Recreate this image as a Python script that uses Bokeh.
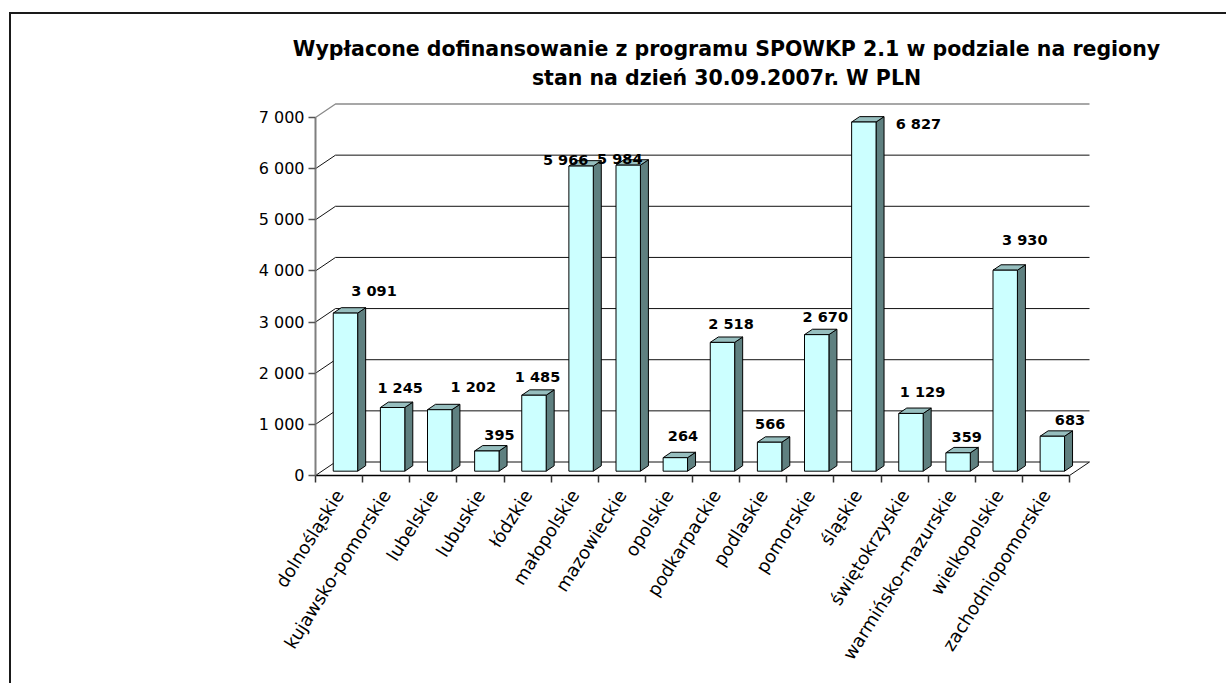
from bokeh.plotting import figure
from bokeh.models import Range1d, FixedTicker, LinearAxis
from bokeh.core.properties import value
from bokeh.embed import file_html
from bokeh.resources import INLINE

# ---------------- data ----------------
regions = ["dolnośląskie", "kujawsko-pomorskie", "lubelskie", "lubuskie", "łódzkie",
           "małopolskie", "mazowieckie", "opolskie", "podkarpackie", "podlaskie",
           "pomorskie", "śląskie", "świętokrzyskie", "warmińsko-mazurskie",
           "wielkopolskie", "zachodniopomorskie"]
amounts = [3091, 1245, 1202, 395, 1485, 5966, 5984, 264, 2518, 566, 2670, 6827,
           1129, 359, 3930, 683]
y_ticks = [0, 1000, 2000, 3000, 4000, 5000, 6000, 7000]
title_lines = ["Wypłacone dofinansowanie z programu SPOWKP 2.1 w podziale na regiony",
               "stan na dzień 30.09.2007r. W PLN"]

# ---------------- style / geometry (pixels) ----------------
# data-label offsets (px) relative to category centre / bar front top
label_dx = [35, 14, 40, 19, 10, -9, -2, 14, 15, 7, 15, 61, 18, 15, 26, 24]
label_dy = [-21.6, -20, -23, -15.5, -18, -6, -6, -22, -18, -18, -18, 2, -21, -16, -30, -16]

W, H = 1226, 683
AXIS_X, BASE_Y, TOP_Y = 315, 475, 117        # page position of the value axis
CAT_W = 47.125
PX_PER_Y = (BASE_Y - TOP_Y) / 7000.0
DX, DY = 20.0, 13.5             # depth of the 3D box
FD, BD = 0.32, 0.72             # bar front / back depth fraction
HW = 12.2                       # half width of bar front face

def xu(px):
    return px / CAT_W

def yu(px):
    return px / PX_PER_Y

n = len(regions)
p = figure(width=W, height=H,
           x_range=Range1d(xu(-AXIS_X), xu(W - AXIS_X)),
           y_range=Range1d(yu(BASE_Y - H), yu(BASE_Y)),
           output_backend="svg", toolbar_location=None,
           x_axis_type=None, y_axis_type=None, min_border=0)
p.title.visible = False
p.styles = {
    "background": "linear-gradient(#1a1a1a, #1a1a1a) 9px 12px / 2px calc(100% - 12px) no-repeat, "
                  "linear-gradient(#1a1a1a, #1a1a1a) 9px 12px / calc(100% - 9px) 2px no-repeat, white"
}
p.outline_line_color = None
p.background_fill_color = None
p.border_fill_color = None
p.xgrid.visible = False
p.ygrid.visible = False

# ---------------- walls / gridlines ----------------
gx, gy = [], []
for t in y_ticks[:-1]:
    gx.append([0, xu(DX), n + xu(DX)])
    gy.append([t, t + yu(DY), t + yu(DY)])
p.multi_line(gx, gy, line_color="#111111", line_width=1)
top = y_ticks[-1]
p.line([0, xu(DX), n + xu(DX)], [top, top + yu(DY), top + yu(DY)],
       line_color="#8a8a8a", line_width=1.3)
p.line([n, n + xu(DX)], [0, yu(DY)], line_color="#111111", line_width=1)

# ---------------- 3D bars ----------------
fx, fy, sx, sy, tx, ty = [], [], [], [], [], []
sdx, sdy = xu(DX * (BD - FD)), yu(DY * (BD - FD))
for i, v in enumerate(amounts):
    c = i + 0.5
    l = c + xu(DX * FD - HW)
    r = c + xu(DX * FD + HW)
    b = yu(DY * FD)
    t = v + yu(DY * FD)
    fx.append([l, r, r, l]); fy.append([b, b, t, t])
    sx.append([r, r + sdx, r + sdx, r]); sy.append([b, b + sdy, t + sdy, t])
    tx.append([l, l + sdx, r + sdx, r]); ty.append([t, t + sdy, t + sdy, t])
p.patches(sx, sy, fill_color="#5f8080", line_color="black", line_width=1)
p.patches(tx, ty, fill_color="#96bebe", line_color="black", line_width=1)
p.patches(fx, fy, fill_color="#ccffff", line_color="black", line_width=1)

# ---------------- data labels ----------------
lab_x = [i + 0.5 + xu(dx) for i, dx in enumerate(label_dx)]
lab_y = [v + yu(DY * FD) - yu(dy) for v, dy in zip(amounts, label_dy)]
lab_t = [format(v, ",").replace(",", " ") for v in amounts]
p.text(lab_x, lab_y, text=lab_t, text_align="center", text_baseline="middle",
       text_font=value("DejaVu Sans"), text_font_style="bold",
       text_font_size="14.5px", text_color="black")

# ---------------- title ----------------
tcx = xu(726 - AXIS_X)
p.text([tcx, tcx], [yu(BASE_Y - 48), yu(BASE_Y - 77)], text=title_lines,
       text_align="center", text_baseline="alphabetic",
       text_font=value("DejaVu Sans"), text_font_style="bold",
       text_font_size="20.5px", text_color="black")

# ---------------- axes ----------------
yaxis = LinearAxis(ticker=FixedTicker(ticks=y_ticks, minor_ticks=[]), fixed_location=0)
yaxis.bounds = (0, 7000)
yaxis.major_label_overrides = {t: format(t, ",").replace(",", " ") for t in y_ticks}
yaxis.major_tick_out = 7
yaxis.major_tick_in = 0
yaxis.minor_tick_line_color = None
yaxis.axis_line_color = "#7f7f7f"
yaxis.axis_line_width = 2
yaxis.major_tick_line_color = "#555555"
yaxis.major_tick_line_width = 1.5
yaxis.major_label_text_font = "DejaVu Sans"
yaxis.major_label_text_font_size = "16px"
yaxis.major_label_text_color = "black"
yaxis.major_label_standoff = 4
p.add_layout(yaxis, "left")

centers = [i + 0.5 for i in range(n)]
xaxis = LinearAxis(ticker=FixedTicker(ticks=centers, minor_ticks=list(range(n + 1))),
                   fixed_location=0)
xaxis.bounds = (0, n)
xaxis.major_label_overrides = {c: name for c, name in zip(centers, regions)}
xaxis.major_tick_out = 0
xaxis.major_tick_in = 0
xaxis.major_tick_line_color = None
xaxis.minor_tick_out = 7
xaxis.minor_tick_in = 0
xaxis.minor_tick_line_color = "#333333"
xaxis.minor_tick_line_width = 1.5
xaxis.axis_line_color = "black"
xaxis.axis_line_width = 1.5
xaxis.major_label_orientation = 1.01
xaxis.major_label_text_font = "DejaVu Sans"
xaxis.major_label_text_font_size = "18px"
xaxis.major_label_text_color = "black"
xaxis.major_label_standoff = 9
p.add_layout(xaxis, "below")

open("out.html", "w").write(file_html(p, INLINE))
